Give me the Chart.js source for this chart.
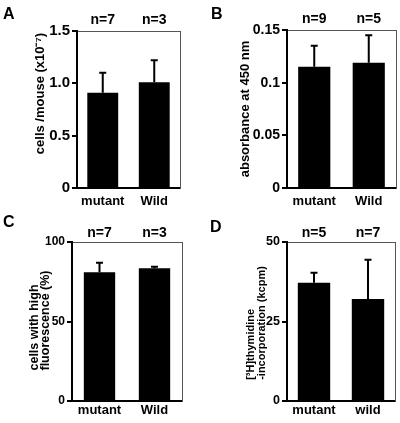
<!DOCTYPE html>
<html>
<head>
<meta charset="utf-8">
<script src="https://cdn.jsdelivr.net/npm/chart.js@4/dist/chart.umd.min.js"></script>
<style>
  html, body { margin: 0; padding: 0; background: #fff; }
  #wrap { position: relative; width: 400px; height: 423px; background: #fff; overflow: hidden; }
  canvas { position: absolute; }
  .lbl { position: absolute; font: bold 16px "Liberation Sans", Arial, Helvetica, sans-serif; line-height: 16px; color: #000; }
</style>
</head>
<body>
<div id="wrap">
  <canvas id="cA" width="200" height="210" style="left:0px;top:0px"></canvas>
  <canvas id="cB" width="200" height="210" style="left:200px;top:0px"></canvas>
  <canvas id="cC" width="200" height="213" style="left:0px;top:210px"></canvas>
  <canvas id="cD" width="200" height="213" style="left:200px;top:210px"></canvas>
  <div class="lbl" style="left:3px;top:6px">A</div>
  <div class="lbl" style="left:211px;top:6px">B</div>
  <div class="lbl" style="left:3px;top:214px">C</div>
  <div class="lbl" style="left:210px;top:219px">D</div>
</div>
<script>
// ---- Data ----
const categoriesA = ['mutant', 'Wild'];
const nLabelsA = ['n=7', 'n=3'];
const valuesA = [0.91, 1.01];
const errorsA = [0.19, 0.21];
const tickValuesA = [0, 0.5, 1.0, 1.5];
const tickLabelsA = ['0', '0.5', '1.0', '1.5'];
const titleA = ['cells /mouse (x10\u207B\u2077)'];

const categoriesB = ['mutant', 'Wild'];
const nLabelsB = ['n=9', 'n=5'];
const valuesB = [0.115, 0.119];
const errorsB = [0.020, 0.026];
const tickValuesB = [0, 0.05, 0.1, 0.15];
const tickLabelsB = ['0', '0.05', '0.1', '0.15'];
const titleB = ['absorbance at 450 nm'];

const categoriesC = ['mutant', 'Wild'];
const nLabelsC = ['n=7', 'n=3'];
const valuesC = [81, 83.5];
const errorsC = [6, 1];
const tickValuesC = [0, 50, 100];
const tickLabelsC = ['0', '50', '100'];
const titleC = ['cells with high', 'fluorescence (%)'];

const categoriesD = ['mutant', 'wild'];
const nLabelsD = ['n=5', 'n=7'];
const valuesD = [37.2, 32.1];
const errorsD = [3.1, 12.3];
const tickValuesD = [0, 25, 50];
const tickLabelsD = ['0', '25', '50'];
const titleD = ['[\u00B3H]thymidine', '-incorporation (kcpm)'];

// ---- Rendering ----
const FONT = '"Liberation Sans", Arial, Helvetica, sans-serif';

const errorBarPlugin = {
  id: 'errorBars',
  afterDatasetsDraw(chart) {
    const ctx = chart.ctx;
    const meta = chart.getDatasetMeta(0);
    const ys = chart.scales.y;
    const ds = chart.data.datasets[0];
    ctx.save();
    ctx.strokeStyle = '#000';
    ctx.lineWidth = 2;
    meta.data.forEach((bar, i) => {
      const v = ds.data[i];
      const e = ds.errors[i];
      const yTop = ys.getPixelForValue(v + e);
      const yBar = ys.getPixelForValue(v);
      const x = bar.x;
      ctx.beginPath();
      ctx.moveTo(x, yBar);
      ctx.lineTo(x, yTop);
      ctx.moveTo(x - 3.5, yTop);
      ctx.lineTo(x + 3.5, yTop);
      ctx.stroke();
    });
    ctx.restore();
  }
};

// Rotated y-axis title block: lines aligned at their start (bottom), block centred on the y scale
const yTitlePlugin = {
  id: 'yTitleBlock',
  afterDraw(chart, args, o) {
    if (!o || !o.lines) return;
    const ctx = chart.ctx;
    const ys = chart.scales.y;
    ctx.save();
    ctx.font = 'bold ' + o.size + 'px ' + FONT;
    ctx.fillStyle = '#000';
    const maxW = Math.max(...o.lines.map(l => ctx.measureText(l).width));
    const yc = (ys.top + ys.bottom) / 2 + o.shift;
    const start = yc + maxW / 2;
    o.lines.forEach((line, i) => {
      ctx.save();
      ctx.translate(o.x + i * o.gap, start);
      ctx.rotate(-Math.PI / 2);
      ctx.textAlign = 'left';
      ctx.textBaseline = 'middle';
      ctx.fillText(line, 0, 0);
      ctx.restore();
    });
    ctx.restore();
  }
};

function makePanel(id, cfg) {
  const canvas = document.getElementById(id);
  const W = canvas.width, H = canvas.height;
  new Chart(canvas, {
    type: 'bar',
    data: {
      labels: cfg.categories,
      datasets: [{
        data: cfg.values,
        errors: cfg.errors,
        backgroundColor: '#000',
        borderWidth: 0,
        categoryPercentage: 1,
        barPercentage: cfg.barPct
      }]
    },
    options: {
      responsive: false,
      devicePixelRatio: 1,
      animation: false,
      layout: { padding: { left: 0, top: 0, right: W - cfg.area.right, bottom: 0 } },
      plugins: {
        legend: { display: false },
        tooltip: { enabled: false },
        yTitleBlock: { lines: cfg.title, x: cfg.titleX, gap: cfg.titleGap, size: cfg.titleSize, shift: cfg.titleShift }
      },
      scales: {
        x: {
          position: 'bottom',
          grid: { display: false, drawTicks: false },
          border: { display: true, color: '#000', width: 2 },
          ticks: { color: '#000', font: { family: FONT, size: 13, weight: 'bold' }, padding: cfg.xPad, maxRotation: 0 },
          afterFit: s => { s.height = H - cfg.area.bottom; }
        },
        x2: {
          type: 'category',
          labels: cfg.nLabels,
          position: 'top',
          offset: true,
          grid: { display: false, drawTicks: false },
          border: { display: true, color: '#555', width: 1 },
          ticks: { color: '#000', font: { family: FONT, size: 14, weight: 'bold' }, padding: cfg.nPad, maxRotation: 0 },
          afterFit: s => { s.height = cfg.area.top; }
        },
        y: {
          position: 'left',
          min: cfg.tickValues[0],
          max: cfg.tickValues[cfg.tickValues.length - 1],
          afterBuildTicks: s => { s.ticks = cfg.tickValues.map(v => ({ value: v })); },
          ticks: {
            color: '#000',
            font: { family: FONT, size: cfg.tickSize, weight: 'bold' },
            padding: cfg.tickPad,
            callback: (v, i) => cfg.tickLabels[i]
          },
          grid: { display: true, drawOnChartArea: false, drawTicks: true, tickLength: 5, color: '#000', lineWidth: 2 },
          border: { display: true, color: '#000', width: 2 },
          title: { display: false },
          afterFit: s => { s.width = cfg.area.left; }
        },
        y2: {
          position: 'right',
          display: true,
          ticks: { display: false },
          grid: { display: false, drawTicks: false },
          border: { display: true, color: '#555', width: 1 },
          afterFit: s => { s.width = 0; }
        }
      }
    },
    plugins: [errorBarPlugin, yTitlePlugin]
  });
}

makePanel('cA', {
  categories: categoriesA, nLabels: nLabelsA, values: valuesA, errors: errorsA,
  tickValues: tickValuesA, tickLabels: tickLabelsA, title: titleA,
  area: { left: 77, right: 180, top: 31, bottom: 188 },
  barPct: 0.6, xPad: 6, nPad: 2, tickSize: 15, tickPad: 2,
  titleX: 40, titleGap: 0, titleSize: 13, titleShift: -16
});
makePanel('cB', {
  categories: categoriesB, nLabels: nLabelsB, values: valuesB, errors: errorsB,
  tickValues: tickValuesB, tickLabels: tickLabelsB, title: titleB,
  area: { left: 87, right: 196, top: 30, bottom: 188 },
  barPct: 0.59, xPad: 6, nPad: 2, tickSize: 14, tickPad: 2,
  titleX: 45, titleGap: 0, titleSize: 13, titleShift: 0
});
makePanel('cC', {
  categories: categoriesC, nLabels: nLabelsC, values: valuesC, errors: errorsC,
  tickValues: tickValuesC, tickLabels: tickLabelsC, title: titleC,
  area: { left: 72, right: 182, top: 32, bottom: 191 },
  barPct: 0.57, xPad: 2, nPad: 0, tickSize: 12, tickPad: 2,
  titleX: 34.5, titleGap: 11.5, titleSize: 12.5, titleShift: -1
});
makePanel('cD', {
  categories: categoriesD, nLabels: nLabelsD, values: valuesD, errors: errorsD,
  tickValues: tickValuesD, tickLabels: tickLabelsD, title: titleD,
  area: { left: 87, right: 195, top: 32, bottom: 191 },
  barPct: 0.6, xPad: 2, nPad: 0, tickSize: 12.5, tickPad: 2,
  titleX: 51, titleGap: 10.5, titleSize: 11, titleShift: 1.5
});
</script>
</body>
</html>
